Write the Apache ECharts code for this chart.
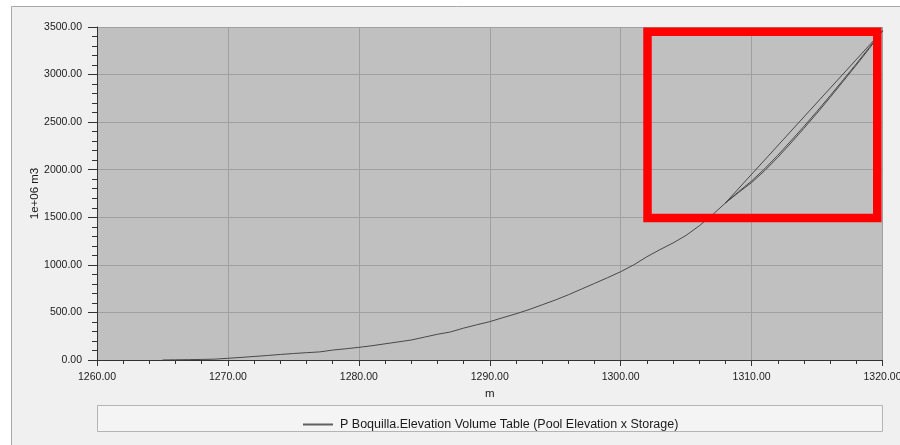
<!DOCTYPE html>
<html>
<head>
<meta charset="utf-8">
<script src="https://cdn.jsdelivr.net/npm/echarts@6/dist/echarts.min.js"></script>
<style>
  html, body { margin: 0; padding: 0; background: #ffffff; }
  #chart { width: 900px; height: 445px; }
</style>
</head>
<body>
<div id="chart"></div>
<script>
// Elevation (m) / storage (1e+06 m3) table, first pass up to the crest
const elevationA = [1265, 1266, 1267, 1268, 1269, 1270, 1271, 1272, 1273, 1274, 1275, 1276, 1277, 1278, 1279,
  1280, 1281, 1282, 1283, 1284, 1285, 1286, 1287, 1288, 1289, 1290, 1291, 1292, 1293, 1294, 1295, 1296, 1297,
  1298, 1299, 1300, 1301, 1302, 1303, 1304, 1305, 1306, 1307, 1308, 1309, 1310, 1311, 1312, 1313, 1314, 1315,
  1316, 1317, 1318, 1319, 1320];
const storageA = [0, 2, 4, 6, 9, 18, 27, 37, 47, 58, 68, 77, 85, 104, 118,
  133, 150, 170, 190, 210, 240, 270, 295, 335, 370, 403, 445, 485, 530, 580, 630, 685, 745,
  805, 865, 928, 1000, 1085, 1160, 1230, 1310, 1410, 1525, 1650, 1760, 1865, 1990, 2130, 2280, 2435, 2595,
  2760, 2930, 3100, 3275, 3460];
// Second block of table rows, restarting at 1308 m
const elevationB = [1308, 1309, 1310, 1311, 1312, 1313, 1314, 1315, 1316, 1317, 1318, 1319, 1320];
const storageB = [1650, 1768, 1882, 2010, 2152, 2302, 2456, 2614, 2778, 2945, 3113, 3287, 3460];

const seriesName = 'P Boquilla.Elevation Volume Table (Pool Elevation x Storage)';
const xAxisName = 'm';
const yAxisName = '1e+06 m3';

// Highlight frame, given in axis units: [elev, storage] corners
const highlightFrom = [1302.05, 3450];
const highlightTo = [1319.6, 1492];

const tableRows = elevationA.map((e, i) => [e, storageA[i]])
  .concat(elevationB.map((e, i) => [e, storageB[i]]));

const FONT = 'Liberation Sans, Arial, sans-serif';
const chart = echarts.init(document.getElementById('chart'), null, { renderer: 'canvas' });

const frameGraphics = [
  { type: 'rect', z: -10, silent: true,
    shape: { x: 11.5, y: 6.5, width: 900, height: 450 },
    style: { fill: '#f0f0f0', stroke: '#a8a8a8', lineWidth: 1 } },
  { type: 'rect', z: -5, silent: true,
    shape: { x: 97.5, y: 405.5, width: 785, height: 26 },
    style: { fill: '#f4f4f4', stroke: '#b4b4b4', lineWidth: 1 } }
];

const option = {
  backgroundColor: '#ffffff',
  animation: false,
  graphic: frameGraphics,
  grid: {
    left: 97, right: 17.5, top: 27, bottom: 85,
    outerBoundsMode: 'none', containLabel: false,
    show: true, backgroundColor: '#c0c0c0', borderWidth: 0
  },
  legend: {
    data: [seriesName],
    top: 413, left: 298,
    icon: 'rect', itemWidth: 30, itemHeight: 2, itemGap: 8,
    textStyle: { fontFamily: FONT, fontSize: 12.5, color: '#1a1a1a', padding: [0, 0, 0, 2] }
  },
  xAxis: {
    type: 'value', min: 1260, max: 1320, interval: 10,
    name: xAxisName, nameLocation: 'middle', nameGap: 28, nameMoveOverlap: false,
    nameTextStyle: { fontFamily: FONT, fontSize: 11.5, color: '#1a1a1a' },
    axisLine: { show: true, onZero: false, lineStyle: { color: '#333333', width: 1 } },
    axisTick: { show: true, length: 6, lineStyle: { color: '#333333' } },
    minorTick: { show: true, splitNumber: 5, length: 4, lineStyle: { color: '#333333' } },
    splitLine: { show: true, lineStyle: { color: '#a0a0a0', width: 1 } },
    axisLabel: { margin: 12, fontFamily: FONT, fontSize: 10.5, color: '#1a1a1a',
      formatter: v => v.toFixed(2) }
  },
  yAxis: {
    type: 'value', min: 0, max: 3500, interval: 500,
    name: yAxisName, nameLocation: 'middle', nameGap: 56, nameRotate: 90, nameMoveOverlap: false,
    nameTextStyle: { fontFamily: FONT, fontSize: 11.5, color: '#1a1a1a' },
    axisLine: { show: true, onZero: false, lineStyle: { color: '#333333', width: 1 } },
    axisTick: { show: true, length: 9, lineStyle: { color: '#333333' } },
    minorTick: { show: true, splitNumber: 5, length: 5, lineStyle: { color: '#333333' } },
    splitLine: { show: true, lineStyle: { color: '#a0a0a0', width: 1 } },
    axisLabel: { margin: 15, fontFamily: FONT, fontSize: 10.5, color: '#1a1a1a',
      formatter: v => v.toFixed(2) }
  },
  series: [{
    name: seriesName,
    type: 'line',
    data: tableRows,
    showSymbol: false,
    symbol: 'none',
    color: '#606060',
    lineStyle: { color: '#484848', width: 1 }
  }]
};
chart.setOption(option);

// Red highlight frame placed from axis coordinates
const p0 = chart.convertToPixel({ gridIndex: 0 }, highlightFrom);
const p1 = chart.convertToPixel({ gridIndex: 0 }, highlightTo);
chart.setOption({
  graphic: frameGraphics.concat([
    { type: 'rect', z: 100, silent: true,
      shape: { x: p0[0], y: p0[1], width: p1[0] - p0[0], height: p1[1] - p0[1] },
      style: { fill: 'none', stroke: '#ff0000', lineWidth: 8.5 } }
  ])
});
</script>
</body>
</html>
